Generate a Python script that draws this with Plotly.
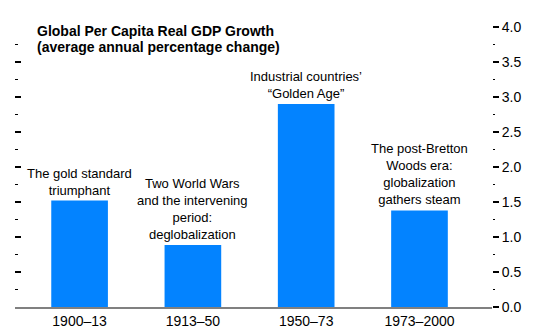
import plotly.graph_objects as go

categories = ["1900–13", "1913–50", "1950–73", "1973–2000"]
values = [1.52, 0.885, 2.9, 1.38]
notes = [
    "The gold standard<br>triumphant",
    "Two World Wars<br>and the intervening<br>period:<br>deglobalization",
    "Industrial countries’<br>“Golden Age”",
    "The post-Bretton<br>Woods era:<br>globalization<br>gathers steam",
]
title_lines = ["Global Per Capita Real GDP Growth", "(average annual percentage change)"]
ytick_vals = [0, 0.5, 1.0, 1.5, 2.0, 2.5, 3.0, 3.5, 4.0]

FONT = "Liberation Sans, Arial, sans-serif"

fig = go.Figure()
fig.add_trace(go.Bar(x=list(range(len(categories))), y=values, width=0.5,
                     marker=dict(color="#0383FF", line=dict(width=0)),
                     yaxis="y2", showlegend=False, hoverinfo="skip"))
# invisible companion trace so the left tick axis is drawn
fig.add_trace(go.Scatter(x=list(range(len(categories))), y=values, mode="none",
                         yaxis="y", showlegend=False, hoverinfo="skip"))

for i, (v, n) in enumerate(zip(values, notes)):
    fig.add_annotation(x=i, y=v, xref="x", yref="y2", text=n, showarrow=False,
                       yanchor="bottom", xanchor="center", yshift=1,
                       font=dict(family=FONT, size=13, color="black"))

for line, ypos in zip(title_lines, [0.984, 0.9286]):
    fig.add_annotation(x=0.0419, y=ypos, xref="paper", yref="paper", text=f"<b>{line}</b>",
                       showarrow=False, xanchor="left", yanchor="middle", align="left",
                       font=dict(family=FONT, size=14, color="black"))

fig.update_layout(
    template="none",
    width=543, height=331,
    margin=dict(l=15, r=51, t=27, b=24, pad=0),
    plot_bgcolor="white", paper_bgcolor="white",
    font=dict(family=FONT, size=14, color="black"),
    showlegend=False,
    xaxis=dict(range=[-0.57, 3.64], tickvals=list(range(len(categories))),
               ticktext=categories, showline=True, linecolor="#808080", linewidth=1.5,
               ticks="", showgrid=False, zeroline=False, automargin=False,
               tickfont=dict(family=FONT, size=14, color="black")),
    yaxis=dict(range=[0, 4], side="left", showticklabels=False, ticks="inside",
               ticklen=6, tickwidth=1.5, tickcolor="black", tickvals=ytick_vals,
               showgrid=False, zeroline=False, showline=False, automargin=False,
               minor=dict(ticks="inside", ticklen=3, tickwidth=1, tickcolor="black",
                          dtick=0.25, showgrid=False)),
    yaxis2=dict(range=[0, 4], side="right", overlaying="y", ticks="outside",
                ticklen=6, tickwidth=1.5, tickcolor="black", tickvals=ytick_vals,
                ticktext=[f"{v:.1f}" for v in ytick_vals],
                showgrid=False, zeroline=False, showline=False, automargin=False,
                tickfont=dict(family=FONT, size=14, color="black"),
                minor=dict(ticks="outside", ticklen=2, tickwidth=1, tickcolor="black",
                           dtick=0.25, showgrid=False)),
)

fig.write_html("out.html")
